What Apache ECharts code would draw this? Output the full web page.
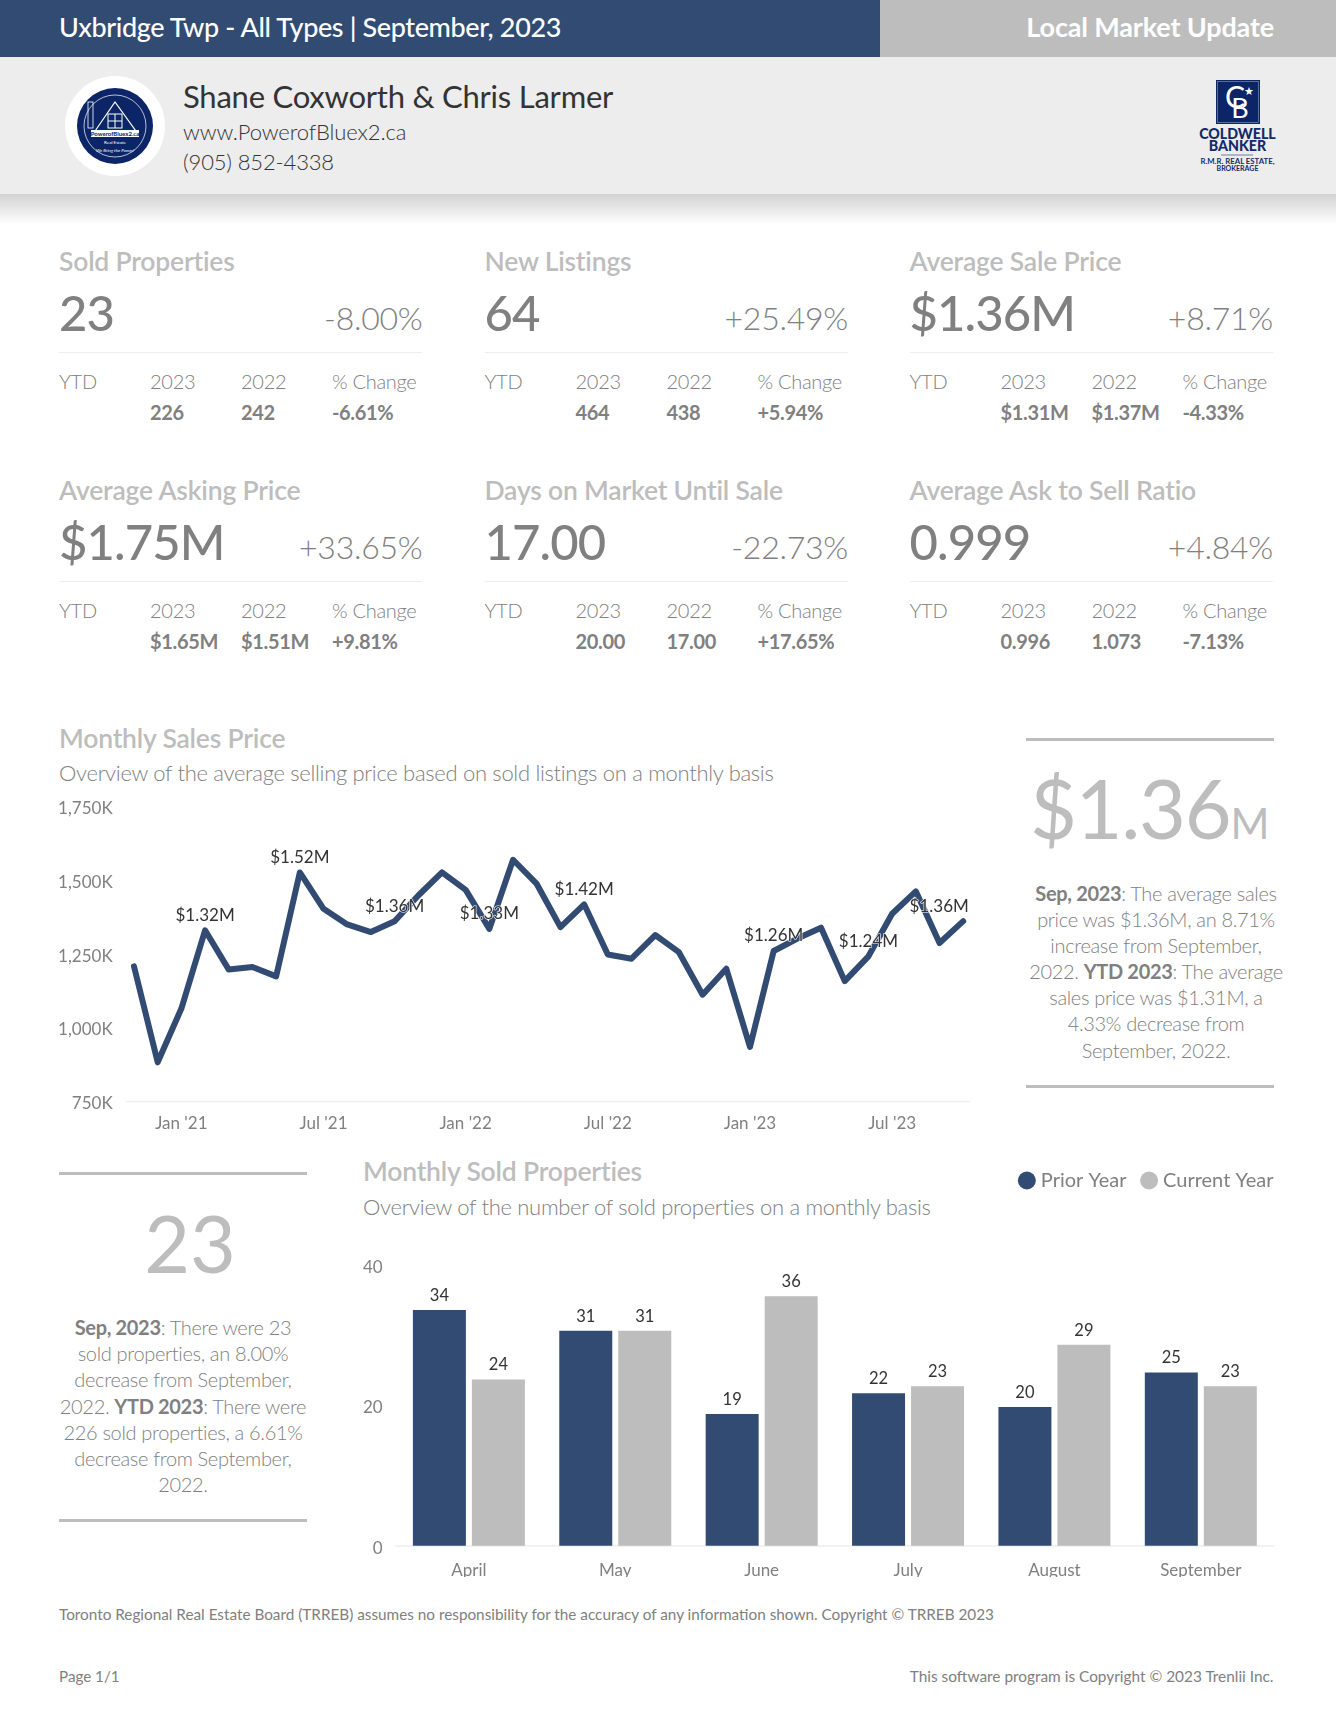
<!DOCTYPE html>
<html><head><meta charset="utf-8"><title>Uxbridge Twp - Local Market Update</title>
<script src="https://cdn.jsdelivr.net/npm/echarts@6/dist/echarts.min.js"></script>
<style>
html,body{margin:0;padding:0;background:#fff;width:1336px;height:1726px;overflow:hidden}
#page{position:relative;width:1336px;height:1726px;overflow:hidden;font-family:Lato,sans-serif;color:#808080}
.t{position:absolute;white-space:nowrap;transform:translateY(-50%);line-height:1.2}
.r{transform:translate(-100%,-50%)}
.c{transform:translate(-50%,-50%);text-align:center}
.b{position:absolute}
b{font-weight:700}
#c1{position:absolute;left:0;top:790px;width:1000px;height:350px}
#c2{position:absolute;left:340px;top:1150px;width:996px;height:427px}
</style></head><body><div id="page"></div>
<script>
// ---- KPI values
const kpiTitles=["Sold Properties","New Listings","Average Sale Price","Average Asking Price","Days on Market Until Sale","Average Ask to Sell Ratio"];
const kpiValues=["23","64","$1.36M","$1.75M","17.00","0.999"];
const kpiChanges=["-8.00%","+25.49%","+8.71%","+33.65%","-22.73%","+4.84%"];
const ytd2023=["226","464","$1.31M","$1.65M","20.00","0.996"];
const ytd2022=["242","438","$1.37M","$1.51M","17.00","1.073"];
const ytdChanges=["-6.61%","+5.94%","-4.33%","+9.81%","+17.65%","-7.13%"];
// ---- Monthly sales price (thousands)
const priceMonths=["Nov '20","Dec '20","Jan '21","Feb '21","Mar '21","Apr '21","May '21","Jun '21","Jul '21","Aug '21","Sep '21","Oct '21","Nov '21","Dec '21","Jan '22","Feb '22","Mar '22","Apr '22","May '22","Jun '22","Jul '22","Aug '22","Sep '22","Oct '22","Nov '22","Dec '22","Jan '23","Feb '23","Mar '23","Apr '23","May '23","Jun '23","Jul '23","Aug '23","Sep '23","Oct '23"];
const priceValues=[1207,882,1064,1329,1196,1205,1173,1525,1402,1349,1323,1360,1447,1525,1466,1334,1568,1486,1340,1417,1247,1233,1313,1255,1111,1199,934,1259,1301,1338,1157,1241,1385,1461,1286,1360];
const priceLabels=[null,null,null,"$1.32M",null,null,null,"$1.52M",null,null,null,"$1.36M",null,null,null,"$1.33M",null,null,null,"$1.42M",null,null,null,null,null,null,null,"$1.26M",null,null,null,"$1.24M",null,null,null,"$1.36M"];
// ---- Monthly sold properties
const soldMonths=["April","May","June","July","August","September"];
const priorYear=[34,31,19,22,20,25];
const currentYear=[24,31,36,23,29,23];

const NAVY='#324b73',GREY='#bdbdbd',TXT='#808080',DARK='#333333';
const page=document.getElementById('page');
function box(x,y,w,h,bg,extra){const d=document.createElement('div');d.className='b';d.style.cssText=`left:${x}px;top:${y}px;width:${w}px;height:${h}px;background:${bg};${extra||''}`;page.appendChild(d);return d}
function text(s,x,y,size,weight,color,cls,ls,extra){const d=document.createElement('div');d.className='t '+(cls||'');d.style.cssText=`left:${x}px;top:${y}px;font-size:${size}px;font-weight:${weight};color:${color};letter-spacing:${ls||0}px;${extra||''}`;d.innerHTML=s;page.appendChild(d);return d}

// header
box(0,0,880,57,NAVY);box(880,0,456,57,GREY);box(0,57,1336,137,'#ededed');
box(0,194,1336,30,'linear-gradient(#d2d2d2,#ffffff)');
text("Uxbridge Twp - All Types | September, 2023",59,27,27,500,'#fff','',-0.38);
text("Local Market Update",1274,27,27,700,'#fff','r',-0.15);
text("Shane Coxworth &amp; Chris Larmer",183,97,31,400,DARK,'',-0.23);
text("www.PowerofBluex2.ca",183,132,22,300,DARK,'',-0.1);
text("(905) 852-4338",183,162,22,300,DARK,'',-0.15);
// logos
const logos=document.createElement('div');logos.innerHTML=`
<svg style="position:absolute;left:60px;top:72px" width="110" height="110" viewBox="0 0 110 110" font-family="Lato">
<circle cx="55" cy="54" r="50" fill="#fff"/><circle cx="55" cy="54" r="38" fill="#0b2566"/><circle cx="55" cy="54" r="31" fill="none" stroke="#fff" stroke-width=".7"/>
<path d="M33 62 L55 30 L78 62 Z" fill="none" stroke="#fff" stroke-width="1.2"/><rect x="28" y="30" width="5" height="26" fill="none" stroke="#fff" stroke-width=".8"/>
<rect x="48" y="42" width="14" height="14" fill="none" stroke="#fff" stroke-width="1"/><path d="M55 42V56M48 49H62" stroke="#fff" stroke-width="1"/>
<rect x="31" y="58" width="48" height="7" fill="#fff"/><text x="55" y="64" font-size="6" font-weight="700" text-anchor="middle" fill="#0b2566">PowerofBluex2.ca</text>
<text x="55" y="72" font-size="4.5" text-anchor="middle" fill="#fff">Real Estate</text><text x="55" y="80" font-size="4.5" font-style="italic" text-anchor="middle" fill="#fff">We Bring the Power!</text></svg>
<svg style="position:absolute;left:1191px;top:76px" width="96" height="100" viewBox="0 0 96 100" font-family="Lato" text-anchor="middle" fill="#14296a">
<rect x="25" y="4" width="44" height="44" fill="#0b2566"/><rect x="26.5" y="5.5" width="41" height="41" fill="none" stroke="#8f9dbd" stroke-width=".6"/>
<text x="44" y="32" font-size="30" font-weight="400" fill="#fff">C</text><text x="49" y="42" font-size="27" font-weight="400" fill="#fff">B</text><text x="58" y="19" font-size="11" fill="#fff">★</text>
<text x="46.5" y="62.5" font-size="14.2" font-weight="900">COLDWELL</text><text x="46.5" y="75" font-size="14.2" font-weight="900">BANKER</text>
<path d="M30 79H62" stroke="#6e7fa8"/><text x="46.5" y="88" font-size="7.8" font-weight="700">R.M.R. REAL ESTATE,</text><text x="46.5" y="95" font-size="7" font-weight="700">BROKERAGE</text></svg>`;
page.appendChild(logos);

// KPI blocks
const colX=[59,484.5,909.5],rowDy=[0,229.4];
kpiTitles.forEach((name,i)=>{
  const x=colX[i%3],dy=rowDy[Math.floor(i/3)];
  text(name,x,262+dy,26.5,600,GREY,'',-0.2);
  text(kpiValues[i],x,311.5+dy,49,500,TXT,'',-0.9);
  text(kpiChanges[i],x+363.5,318+dy,32,300,TXT,'r',-0.25);
  box(x,352+dy,363,1,'#eeeeee');
  text("YTD",x,380.5+dy,20,300,TXT,'',-0.28);
  text("2023",x+91,380.5+dy,20,300,TXT,'',-0.28);
  text("2022",x+182,380.5+dy,20,300,TXT,'',-0.28);
  text("% Change",x+273,380.5+dy,20,300,TXT,'',-0.28);
  text(ytd2023[i],x+91,411.5+dy,20,700,TXT,'',-0.35);
  text(ytd2022[i],x+182,411.5+dy,20,700,TXT,'',-0.35);
  text(ytdChanges[i],x+273,411.5+dy,20,700,TXT,'',-0.35);
});

// section headings
text("Monthly Sales Price",59,739,26.5,600,GREY,'',-0.2);
text("Overview of the average selling price based on sold listings on a monthly basis",59,773,22,300,TXT,'',-0.31);
text("Monthly Sold Properties",363,1172,26.5,600,GREY,'',-0.2);
text("Overview of the number of sold properties on a monthly basis",363,1207,22,300,TXT,'',-0.31);

// side panels
box(1025.5,737.5,248,3,GREY);box(1025.5,1084.5,248,3,GREY);
text('$1.36<span style="font-size:42px">M</span>',1149,808,81,400,GREY,'c',-1.3);
text('<b>Sep, 2023</b>: The average sales<br>price was $1.36M, an 8.71%<br>increase from September,<br>2022. <b>YTD 2023</b>: The average<br>sales price was $1.31M, a<br>4.33% decrease from<br>September, 2022.',1156,971,20,300,TXT,'c',-0.33,'line-height:26.1px');
box(59,1172,248,3,GREY);box(59,1519,248,3,GREY);
text('23',190,1243,79,400,GREY,'c');
text('<b>Sep, 2023</b>: There were 23<br>sold properties, an 8.00%<br>decrease from September,<br>2022. <b>YTD 2023</b>: There were<br>226 sold properties, a 6.61%<br>decrease from September,<br>2022.',183,1406,20,300,TXT,'c',-0.33,'line-height:26.2px');

// footer
text("Toronto Regional Real Estate Board (TRREB) assumes no responsibility for the accuracy of any information shown. Copyright © TRREB 2023",59,1614,15.3,400,TXT);
text("Page 1/1",59,1676,15.2,400,TXT);
text("This software program is Copyright © 2023 Trenlii Inc.",1273.5,1676,15.4,400,TXT,'r');

// charts
const c1=document.createElement('div');c1.id='c1';page.appendChild(c1);
const c2=document.createElement('div');c2.id='c2';page.appendChild(c2);

echarts.init(c1).setOption({
  animation:false,
  textStyle:{fontFamily:'Lato'},
  grid:{left:122.15,width:852.9,top:16,height:295.3,outerBoundsMode:'none'},
  graphic:[{type:'line',shape:{x1:126,y1:311.5,x2:970,y2:311.5},style:{stroke:'#eeeeee',lineWidth:1.5}}],
  xAxis:{type:'category',data:priceMonths,boundaryGap:true,axisLine:{show:false},axisTick:{show:false},
    axisLabel:{interval:i=>i%6===2,color:TXT,fontSize:17,margin:14,fontFamily:'Lato'}},
  yAxis:{type:'value',min:750,max:1750,interval:250,splitLine:{show:false},axisLine:{show:false},axisTick:{show:false},
    axisLabel:{color:TXT,fontSize:17,margin:9.5,fontFamily:'Lato',
      formatter:v=>`{v|${v.toLocaleString('en-US')}K}`,
      rich:{v:{color:TXT,fontSize:17,fontFamily:'Lato',padding:[5,0,0,0]}}}},
  series:[{type:'line',showSymbol:true,showAllSymbol:true,symbol:'circle',symbolSize:1,
    lineStyle:{color:NAVY,width:6,cap:'round',join:'round'},itemStyle:{color:NAVY},
    data:priceValues.map((v,i)=>({value:v,label:{show:!!priceLabels[i],formatter:priceLabels[i]||'',position:'top',distance:6,
      color:DARK,fontSize:17,fontFamily:'Lato',textBorderColor:'#fff',textBorderWidth:1.2,
      offset:i===priceValues.length-1?[-24,0]:[0,0]}}))}]
});

const barLabel={show:true,position:'top',distance:6,color:DARK,fontSize:16.5,fontFamily:'Lato'};
echarts.init(c2).setOption({
  animation:false,
  textStyle:{fontFamily:'Lato'},
  legend:{right:62.5,top:20.5,padding:0,icon:'circle',itemWidth:18,itemHeight:18,itemGap:13.5,selectedMode:false,
    textStyle:{color:TXT,fontSize:20,fontFamily:'Lato'},data:['Prior Year','Current Year']},
  grid:{left:55.7,width:878.3,top:118.5,height:277.2,outerBoundsMode:'none'},
  xAxis:{type:'category',data:soldMonths,axisLine:{lineStyle:{color:'#eeeeee',width:1.5}},axisTick:{show:false},
    axisLabel:{color:TXT,fontSize:17,margin:16,interval:0,fontFamily:'Lato'}},
  yAxis:{type:'value',min:0,max:40,interval:20,splitLine:{show:false},axisLine:{show:false},axisTick:{show:false},
    axisLabel:{color:TXT,fontSize:17,margin:13,fontFamily:'Lato',
      formatter:v=>v===40?`{top|${v}}`:v===0?`{low|${v}}`:`${v}`,
      rich:{top:{color:TXT,fontSize:17,fontFamily:'Lato',padding:[0,0,2,0]},low:{color:TXT,fontSize:17,fontFamily:'Lato',padding:[6,0,0,0]}}}},
  series:[
    {name:'Prior Year',type:'bar',data:priorYear,barWidth:53,barGap:'11.3%',itemStyle:{color:NAVY},label:barLabel},
    {name:'Current Year',type:'bar',data:currentYear,barWidth:53,itemStyle:{color:GREY},label:barLabel}
  ]
});
</script></body></html>
